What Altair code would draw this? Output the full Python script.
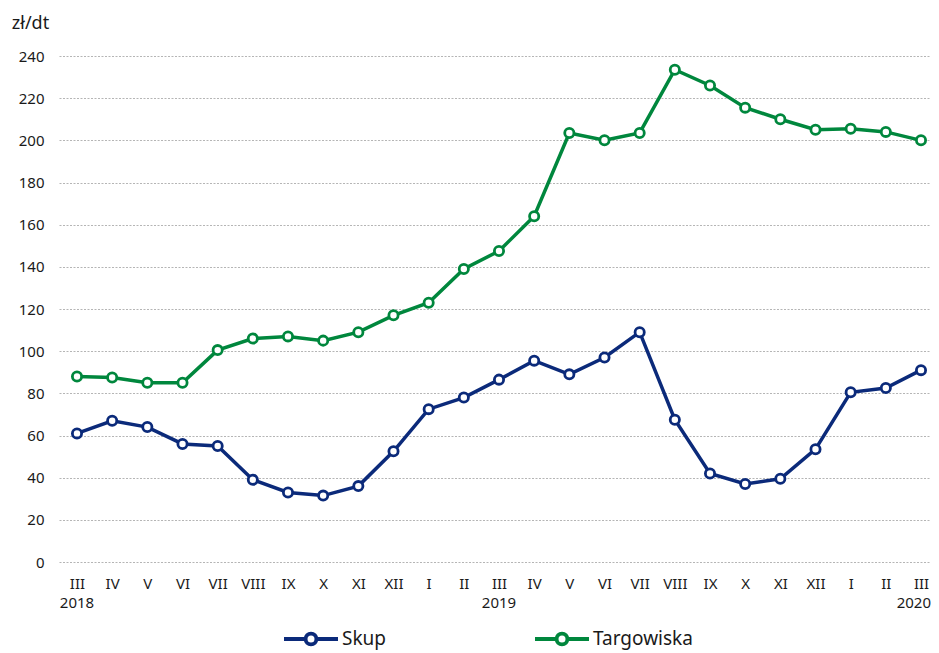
import altair as alt
import pandas as pd

months = ["III", "IV", "V", "VI", "VII", "VIII", "IX", "X", "XI", "XII", "I", "II",
          "III", "IV", "V", "VI", "VII", "VIII", "IX", "X", "XI", "XII", "I", "II", "III"]
keys = ["2018-03", "2018-04", "2018-05", "2018-06", "2018-07", "2018-08", "2018-09",
        "2018-10", "2018-11", "2018-12", "2019-01", "2019-02", "2019-03", "2019-04",
        "2019-05", "2019-06", "2019-07", "2019-08", "2019-09", "2019-10", "2019-11",
        "2019-12", "2020-01", "2020-02", "2020-03"]
skup = [61, 67, 64, 56, 55, 39, 33, 31.5, 36, 52.5, 72.5, 78, 86.5, 95.5, 89, 97, 109,
        67.5, 42, 37, 39.5, 53.5, 80.5, 82.5, 91]
targowiska = [88, 87.5, 85, 85, 100.5, 106, 107, 105, 109, 117, 123, 139, 147.5, 164,
              203.5, 200, 203.5, 233.5, 226, 215.5, 210, 205, 205.5, 204, 200]
year_keys = ["2018-03", "2019-03"]
year_labels = ["2018", "2019"]
last_year_key = ["2020-03"]
last_year_label = ["2020"]
series_names = ["Skup", "Targowiska"]
series_colors = ["#0b2a7a", "#00873d"]

rows = []
for k, a, b in zip(keys, skup, targowiska):
    rows.append({"key": k, "series": "Skup", "value": a})
    rows.append({"key": k, "series": "Targowiska", "value": b})
df = pd.DataFrame(rows)
label_map = dict(zip(keys, months))
years_df = pd.DataFrame({"key": year_keys, "label": year_labels})
last_df = pd.DataFrame({"key": last_year_key, "label": last_year_label})

FONT = "Noto Sans"
W, H = 872, 506

label_expr = "{" + ",".join(f"'{k}':'{m}'" for k, m in label_map.items()) + "}[datum.value]"

x_scale = alt.Scale(type="point", domain=keys, padding=0.398, align=0.643)
x_enc = alt.X("key:O", sort=keys, scale=x_scale,
              axis=alt.Axis(title=None, labelExpr=label_expr, ticks=False, domain=False,
                            labelPadding=14, labelFontSize=15, labelColor="#1a1a1a",
                            labelFont=FONT, grid=False, labelAngle=0))
y_enc = alt.Y("value:Q",
              scale=alt.Scale(domain=[0, 240], nice=False),
              axis=alt.Axis(values=list(range(0, 241, 20)), title="zł/dt", titleAngle=0,
                            titleX=-29, titleY=-33, titleAlign="center",
                            titleBaseline="middle", titleFont=FONT, titleFontSize=18,
                            titleFontWeight="normal", titleColor="#1a1a1a",
                            ticks=False, domain=False, labelPadding=15,
                            labelFontSize=15, labelFont=FONT, labelColor="#1a1a1a",
                            grid=True, gridColor="#b5b5b5", gridDash=[2, 1.5],
                            gridWidth=1))
color_enc = alt.Color("series:N",
                      scale=alt.Scale(domain=series_names, range=series_colors),
                      legend=alt.Legend(title=None, orient="none", direction="horizontal",
                                        legendX=223, legendY=554,
                                        symbolType="M -1 0 L -0.2 0 M 0.2 0 L 1 0 M 0.2 0 A 0.2 0.2 0 1 1 -0.2 0 A 0.2 0.2 0 1 1 0.2 0",
                                        symbolSize=2916, symbolStrokeWidth=3.8,
                                        symbolFillColor="white",
                                        labelFontSize=19, labelFont=FONT,
                                        labelColor="#1a1a1a", labelOffset=2,
                                        columnPadding=140))

base = alt.Chart(df)
lines = base.mark_line(strokeWidth=3.5).encode(x=x_enc, y=y_enc, stroke=color_enc)
points = base.mark_point(filled=True, fill="white", size=85, strokeWidth=2.8, opacity=1).encode(
    x=x_enc, y=y_enc, stroke=color_enc)
years = alt.Chart(years_df).mark_text(fontSize=15, font=FONT, color="#1a1a1a",
                                      baseline="middle").encode(
    x=alt.X("key:O", sort=keys, scale=x_scale),
    y=alt.value(H + 41), text="label:N")
last_year = alt.Chart(last_df).mark_text(fontSize=15, font=FONT, color="#1a1a1a",
                                         baseline="middle", align="right", dx=10).encode(
    x=alt.X("key:O", sort=keys, scale=x_scale),
    y=alt.value(H + 41), text="label:N")

chart = alt.layer(lines, points, years, last_year).properties(
    width=W, height=H,
    autosize=alt.AutoSizeParams(type="none"),
    padding={"left": 51, "top": 48, "right": 0, "bottom": 100},
).configure_view(stroke=None)

chart.save("out.html", embed_options={"renderer": "svg", "actions": False})
